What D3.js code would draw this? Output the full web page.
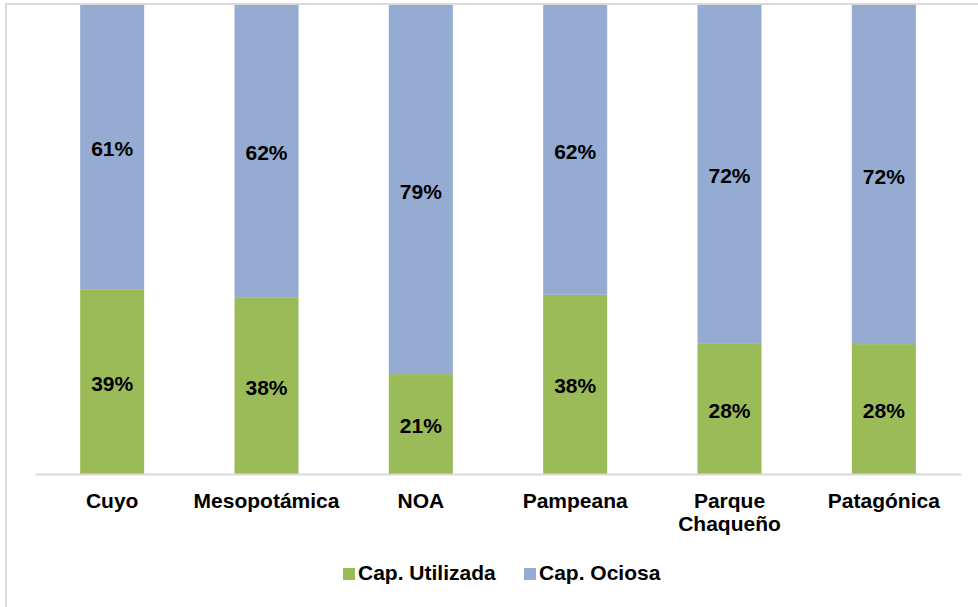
<!DOCTYPE html>
<html><head><meta charset="utf-8">
<script src="https://cdn.jsdelivr.net/npm/d3@7"></script>
<style>body{margin:0;background:#fff;}svg{display:block;}text{font-family:"Liberation Sans",Arial,sans-serif;font-weight:bold;fill:#000;}</style>
</head><body><div id="chart"></div>
<script>
const categories = ["Cuyo", "Mesopotámica", "NOA", "Pampeana", "Parque\nChaqueño", "Patagónica"];
const utilizada = [0.394, 0.377, 0.213, 0.382, 0.279, 0.277];
const ociosa = [0.606, 0.623, 0.787, 0.618, 0.721, 0.723];
const seriesNames = ["Cap. Utilizada", "Cap. Ociosa"];
const colors = ["#9BBB59", "#95ABD2"];

const W = 978, H = 607;
const svg = d3.select("#chart").append("svg").attr("width", W).attr("height", H);
svg.append("rect").attr("x", 6).attr("y", 4).attr("width", 1000).attr("height", 700)
  .attr("fill", "#fff").attr("stroke", "#d9d9d9").attr("stroke-width", 2);

const x = d3.scaleBand().domain(categories).range([35, 961]).paddingInner(0.585).paddingOuter(0.2925);
const y = d3.scaleLinear().domain([0, 1]).range([474, 5]);

const data = categories.map((c, i) => ({cat: c, u: utilizada[i], o: ociosa[i]}));
const stack = d3.stack().keys(["u", "o"])(data);

stack.forEach((layer, li) => {
  const g = svg.append("g");
  g.selectAll("rect").data(layer).join("rect")
    .attr("x", d => x(d.data.cat))
    .attr("width", x.bandwidth())
    .attr("y", d => y(d[1]))
    .attr("height", d => y(d[0]) - y(d[1]))
    .attr("fill", colors[li]);
  g.selectAll("text").data(layer).join("text")
    .attr("x", d => x(d.data.cat) + x.bandwidth() / 2)
    .attr("y", d => (y(d[0]) + y(d[1])) / 2 + 9)
    .attr("text-anchor", "middle")
    .style("font-size", "21px")
    .text(d => Math.round((d[1] - d[0]) * 100) + "%");
});

// axis
const axis = svg.append("g").attr("transform", "translate(0,474)").call(d3.axisBottom(x).tickSize(0).tickFormat(""));
axis.select(".domain").attr("stroke", "#d9d9d9").attr("stroke-width", 2);
axis.selectAll(".tick").each(function(d) {
  const t = d3.select(this).append("text").attr("text-anchor", "middle").style("font-size", "21px").attr("fill", "#000");
  d.split("\n").forEach((line, i) => {
    t.append("tspan").attr("x", 0).attr("y", 34 + i * 23).text(line);
  });
});

// legend
const legendItems = [{name: seriesNames[0], c: colors[0], x: 343}, {name: seriesNames[1], c: colors[1], x: 524}];
const lg = svg.append("g");
legendItems.forEach(it => {
  lg.append("rect").attr("x", it.x).attr("y", 568).attr("width", 12).attr("height", 12).attr("fill", it.c);
  lg.append("text").attr("x", it.x + 15).attr("y", 580).style("font-size", "21px").text(it.name);
});
</script></body></html>
